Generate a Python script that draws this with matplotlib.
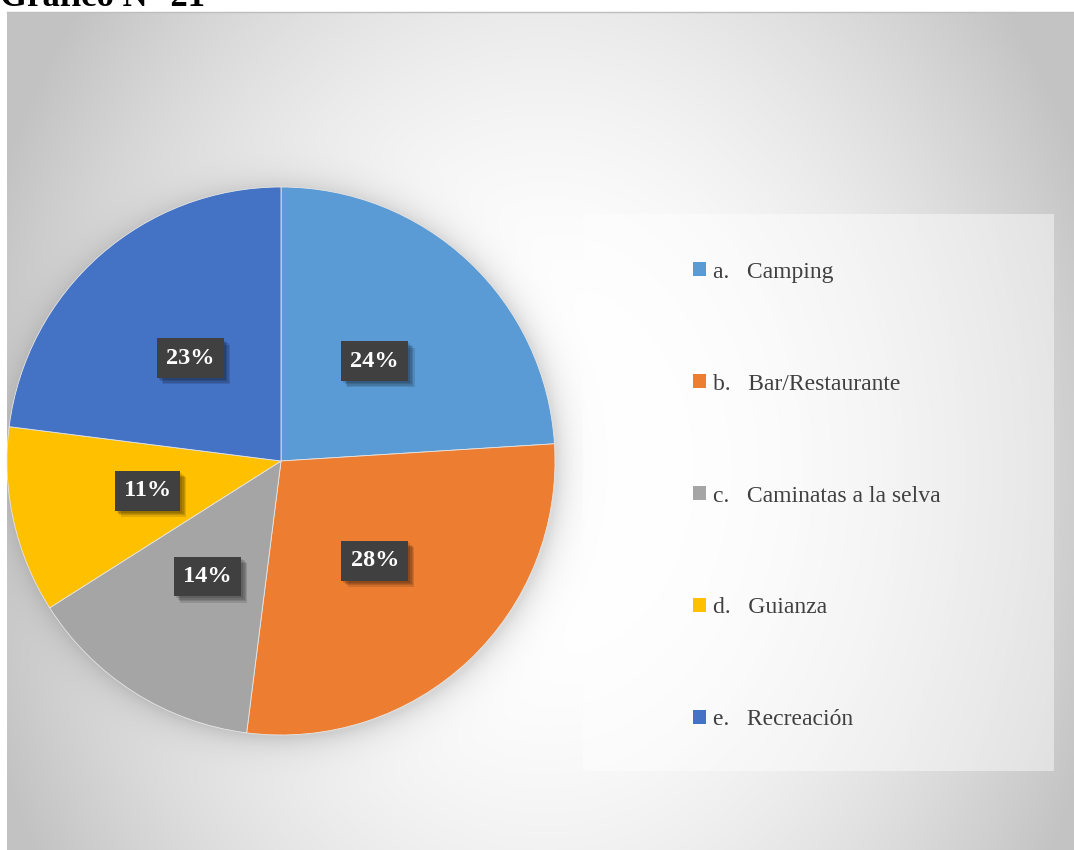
import numpy as np
import matplotlib
matplotlib.use("Agg")
import matplotlib.pyplot as plt
from matplotlib.patches import Rectangle, Patch
import matplotlib.patheffects as pe

# ---- data ----
letters = ["a.", "b.", "c.", "d.", "e."]
categories = ["Camping", "Bar/Restaurante", "Caminatas a la selva", "Guianza", "Recreación"]
shares = [24, 28, 14, 11, 23]
colors = ["#5B9BD5", "#ED7D31", "#A5A5A5", "#FFC000", "#4472C4"]
title = "Gráfico N° 21"

W, H = 1074, 850
DPI = 100
SERIF = ["Liberation Serif", "DejaVu Serif"]

fig = plt.figure(figsize=(W / DPI, H / DPI), dpi=DPI, facecolor="white")

# ---- chart area background: radial grey gradient with a soft halo round the pie ----
x0, y0 = 7, 12
pie_cx, pie_cy, pie_r = 281, 461, 274
ys, xs = np.mgrid[y0:H, x0:W].astype(float)
d = np.sqrt(((xs - 545) / 560.0) ** 2 + ((ys - 470) / 720.0) ** 2)
t = np.clip((d - 0.2) / 0.85, 0, 1) ** 1.6
val = (255 - 60 * t) / 255.0
rr = np.sqrt((xs - pie_cx - 2) ** 2 + (ys - pie_cy - 2) ** 2)
halo = np.where(rr > pie_r, 0.14 * np.exp(-(rr - pie_r) / 14.0), 0.14)
val = val * (1 - halo)
img = np.dstack([val, val, val])
ax_bg = fig.add_axes([x0 / W, 0, (W - x0) / W, (H - y0) / H])
ax_bg.imshow(img, aspect="auto", interpolation="bilinear")
ax_bg.set_axis_off()
fig.add_artist(plt.Line2D([x0 / W, 1], [1 - y0 / H, 1 - y0 / H], color="#bdbdbd", lw=1))

# ---- title (runs off the top of the page) ----
fig.text(0, 1 - 6 / H, title, family=SERIF, fontsize=25, fontweight="bold",
         color="black", va="baseline", ha="left")

# ---- legend panel ----
lx0, ly0, lx1, ly1 = 583, 214, 1054, 771
fig.add_artist(Rectangle((lx0 / W, 1 - ly1 / H), (lx1 - lx0) / W, (ly1 - ly0) / H,
                         transform=fig.transFigure, facecolor="white", alpha=0.45,
                         edgecolor="none"))

# ---- pie ----
ax = fig.add_axes([(pie_cx - pie_r) / W, (H - pie_cy - pie_r) / H,
                   2 * pie_r / W, 2 * pie_r / H])
wedges, _, autotexts = ax.pie(
    shares, colors=colors, startangle=90, counterclock=False, radius=1,
    autopct=lambda p: f"{p:.0f}%", pctdistance=0.5,
    wedgeprops=dict(edgecolor="#e6e6e6", linewidth=0.6),
    textprops=dict(family=SERIF, fontsize=17.5, fontweight="bold", color="white"),
)
ax.set_xlim(-1, 1)
ax.set_ylim(-1, 1)
ax.set_aspect("equal")
ax.set_axis_off()

# dark label boxes with a soft drop shadow
soft_shadow = [pe.SimplePatchShadow(offset=(o, -o), shadow_rgbFace="black", alpha=0.12)
               for o in (4.5, 3.5, 2.5, 1.5)]
for t_ in autotexts:
    t_.set_bbox(dict(boxstyle="square,pad=0.38", facecolor="#404040",
                     edgecolor="none", linewidth=0))
    t_.get_bbox_patch().set_path_effects(soft_shadow + [pe.Normal()])

# ---- legend ----
handles = [Patch(facecolor=c, edgecolor="none") for c in colors]
labels = [f"{l}   {c}" for l, c in zip(letters, categories)]
leg = fig.legend(handles, labels, loc="center left",
                 bbox_to_anchor=(693 / W, 1 - 496 / H),
                 frameon=False, borderpad=0, borderaxespad=0,
                 handlelength=0.55, handleheight=0.55, handletextpad=0.3,
                 labelspacing=3.85,
                 prop=dict(family=SERIF, size=17))
for txt in leg.get_texts():
    txt.set_color("#404040")

fig.savefig("out.png", dpi=DPI, facecolor="white")
